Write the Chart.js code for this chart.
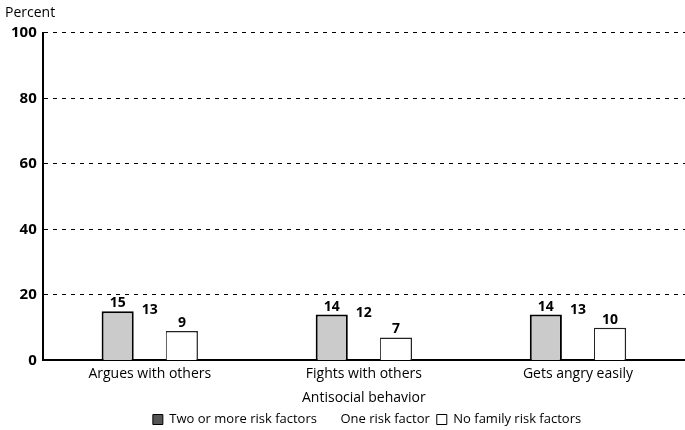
<!DOCTYPE html>
<html>
<head>
<meta charset="utf-8">
<script src="https://cdn.jsdelivr.net/npm/chart.js@4.4.1/dist/chart.umd.min.js"></script>
<style>
  html, body { margin: 0; padding: 0; background: #fff; }
  #wrap { width: 685px; height: 430px; }
</style>
</head>
<body>
<div id="wrap"><canvas id="myChart"></canvas></div>
<script>
var categories = ['Argues with others', 'Fights with others', 'Gets angry easily'];
var twoOrMore = [15, 14, 14];
var oneFactor = [13, 12, 13];
var noFactors = [9, 7, 10];
var yTicks = [0, 20, 40, 60, 80, 100];

var FONT = "'Open Sans', 'Noto Sans', sans-serif";

// value labels above each bar
var valueLabels = {
    id: 'valueLabels',
    afterDatasetsDraw: function(chart) {
        var ctx = chart.ctx;
        ctx.save();
        ctx.font = 'bold 14px ' + FONT;
        ctx.fillStyle = '#000';
        ctx.textAlign = 'center';
        ctx.textBaseline = 'bottom';
        chart.data.datasets.forEach(function(ds, i) {
            chart.getDatasetMeta(i).data.forEach(function(bar, j) {
                ctx.fillText(ds.data[j], bar.x, bar.y - 1);
            });
        });
        ctx.restore();
    }
};

// the legend in the original sits a bit right of centre
var legendShift = {
    id: 'legendShift',
    afterLayout: function(chart) {
        if (chart.legend) chart.legend.left += 44;
    }
};

var ctx = document.getElementById('myChart').getContext('2d');

var myChart = new Chart(ctx, {
    type: 'bar',
    data: {
        labels: categories,
        datasets: [{
            label: 'Two or more risk factors',
            backgroundColor: '#cbcbcb',
            borderColor: '#000',
            borderWidth: {top: 2, left: 2, right: 2, bottom: 0},
            data: twoOrMore
        },
        {
            label: 'One risk factor',
            backgroundColor: 'rgba(255,255,255,0)',
            borderWidth: 0,
            data: oneFactor
        },
        {
            label: 'No family risk factors',
            backgroundColor: '#fff',
            borderColor: '#222',
            borderWidth: {top: 1.5, left: 1, right: 1.5, bottom: 0},
            data: noFactors
        }]
    },
    options: {
        responsive: true,
        maintainAspectRatio: false,
        animation: false,
        layout: { padding: { left: 5, right: 0, top: 0, bottom: -6 } },
        datasets: { bar: { categoryPercentage: 0.45, barPercentage: 1 } },
        plugins: {
            title: {
                display: true,
                text: 'Percent',
                align: 'start',
                color: '#000',
                font: { family: FONT, size: 14, weight: 'normal' },
                padding: { top: 5, bottom: 11 }
            },
            legend: {
                display: true,
                position: 'bottom',
                labels: {
                    color: '#000',
                    font: { family: FONT, size: 13 },
                    boxWidth: 10,
                    boxHeight: 10,
                    padding: 7,
                    generateLabels: function(chart) {
                        return chart.data.datasets.map(function(ds, i) {
                            var fill = i === 0 ? '#555' : (i === 1 ? 'rgba(0,0,0,0)' : '#fff');
                            return {
                                text: ds.label,
                                fillStyle: fill,
                                strokeStyle: i === 1 ? 'rgba(0,0,0,0)' : '#000',
                                lineWidth: i === 1 ? 0 : 1,
                                fontColor: '#000',
                                datasetIndex: i
                            };
                        });
                    }
                }
            },
            tooltip: { enabled: false }
        },
        scales: {
            x: {
                grid: { display: false, drawTicks: false },
                border: { display: true, color: '#000', width: 2 },
                ticks: { color: '#000', font: { family: FONT, size: 14 }, padding: 5 },
                title: {
                    display: true,
                    text: 'Antisocial behavior',
                    color: '#000',
                    font: { family: FONT, size: 14 },
                    padding: { top: 2, bottom: 0 }
                }
            },
            y: {
                min: 0,
                max: 100,
                afterBuildTicks: function(axis) {
                    axis.ticks = yTicks.map(function(v) { return { value: v }; });
                },
                grid: {
                    color: function(c) { return c.tick.value === 0 ? 'rgba(0,0,0,0)' : '#000'; },
                    lineWidth: 1,
                    drawTicks: false
                },
                border: { display: true, color: '#000', width: 2, dash: [4, 5] },
                ticks: { color: '#000', font: { family: FONT, size: 15, weight: 'bold' }, padding: 6 }
            }
        }
    },
    plugins: [valueLabels, legendShift]
});
</script>
</body>
</html>
